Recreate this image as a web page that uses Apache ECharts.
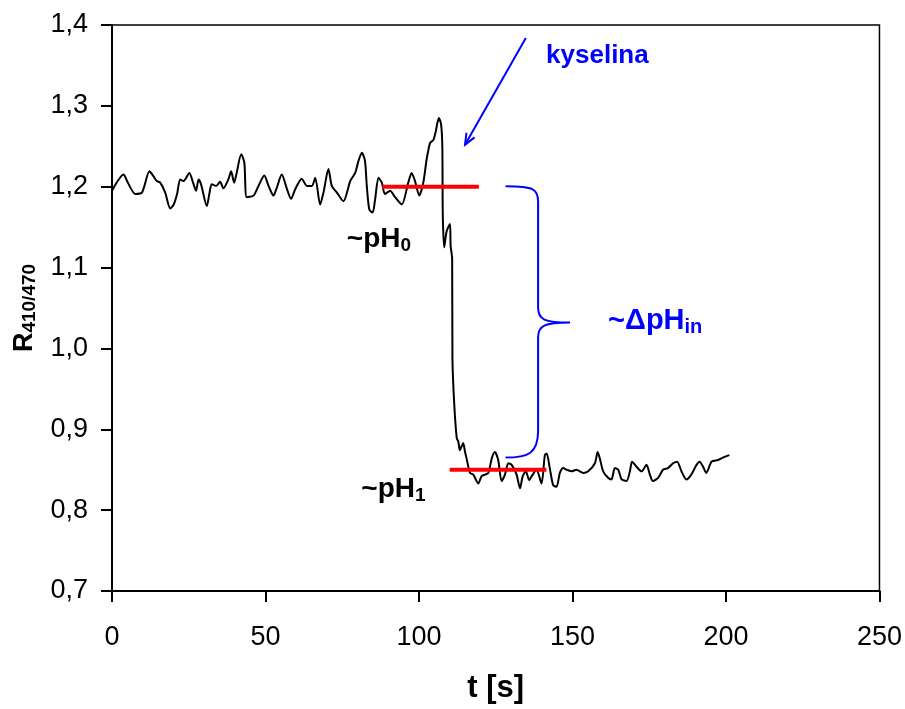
<!DOCTYPE html>
<html>
<head>
<meta charset="utf-8">
<script src="https://cdn.jsdelivr.net/npm/echarts@6/dist/echarts.min.js"></script>
<style>html,body{margin:0;padding:0;background:#fff}#c{width:905px;height:709px}</style>
</head>
<body>
<div id="c"></div>
<script>
// ---- data ----
const tSeconds = [0, 3.8, 4.9, 7.6, 9.8, 12.2, 13.5, 14.6, 15.7, 17.3, 19.0, 20.1, 21.2, 22.2, 23.3, 25.2, 26.4, 27.4, 28.2, 29.0, 30.9, 31.7, 32.5, 33.9, 35.2, 36.3, 37.9, 38.8, 39.8, 40.5, 42.1, 43.1, 43.9, 46.1, 47.7, 49.6, 51.0, 52.6, 53.7, 55.3, 57.0, 58.3, 59.7, 61.8, 63.5, 65.1, 66.2, 67.8, 68.9, 70.5, 71.6, 73.2, 75.4, 77.6, 79.2, 80.3, 81.4, 82.4, 83.0, 83.8, 84.9, 85.7, 86.8, 87.9, 88.9, 90.6, 92.2, 94.4, 96.5, 97.6, 98.7, 100.1, 101.4, 102.5, 103.6, 104.7, 105.5, 106.0, 106.5, 107.2, 107.6, 107.7, 107.8, 108.2, 109.0, 110.1, 110.3, 110.8, 110.9, 111.5, 112.3, 112.8, 113.3, 113.9, 114.4, 115.0, 115.5, 116.6, 117.7, 119.3, 120.4, 121.5, 122.6, 123.7, 124.7, 125.8, 126.9, 128.0, 129.1, 130.2, 131.8, 132.9, 133.8, 134.8, 135.9, 136.7, 138.3, 139.9, 141.0, 141.6, 142.6, 143.7, 144.8, 145.9, 147.0, 148.1, 149.7, 151.3, 153.5, 155.1, 157.3, 158.2, 158.9, 160.0, 161.6, 162.7, 163.8, 164.9, 166.0, 167.6, 168.7, 169.4, 170.8, 172.5, 174.1, 175.2, 176.2, 177.9, 179.5, 181.1, 182.8, 184.1, 185.5, 187.1, 188.7, 190.4, 191.4, 192.5, 193.6, 195.3, 197.4, 199.0, 201.1];
const ratio410_470 = [1.195, 1.215, 1.207, 1.191, 1.193, 1.219, 1.213, 1.207, 1.205, 1.193, 1.173, 1.178, 1.191, 1.209, 1.207, 1.217, 1.205, 1.195, 1.209, 1.203, 1.176, 1.191, 1.203, 1.201, 1.206, 1.198, 1.209, 1.219, 1.205, 1.215, 1.240, 1.230, 1.187, 1.189, 1.201, 1.214, 1.201, 1.189, 1.199, 1.215, 1.197, 1.185, 1.197, 1.210, 1.201, 1.201, 1.211, 1.178, 1.193, 1.222, 1.201, 1.193, 1.182, 1.207, 1.217, 1.232, 1.242, 1.232, 1.201, 1.172, 1.168, 1.184, 1.211, 1.205, 1.191, 1.195, 1.187, 1.178, 1.205, 1.217, 1.207, 1.189, 1.205, 1.234, 1.254, 1.258, 1.269, 1.279, 1.285, 1.277, 1.250, 1.184, 1.156, 1.125, 1.145, 1.154, 1.127, 1.111, 0.987, 0.930, 0.889, 0.885, 0.874, 0.879, 0.883, 0.872, 0.864, 0.846, 0.844, 0.833, 0.842, 0.844, 0.846, 0.864, 0.872, 0.862, 0.836, 0.844, 0.858, 0.856, 0.844, 0.827, 0.842, 0.848, 0.837, 0.842, 0.850, 0.833, 0.868, 0.870, 0.852, 0.831, 0.829, 0.846, 0.852, 0.850, 0.848, 0.850, 0.846, 0.848, 0.858, 0.872, 0.864, 0.848, 0.840, 0.838, 0.852, 0.850, 0.838, 0.836, 0.848, 0.860, 0.854, 0.848, 0.856, 0.844, 0.836, 0.840, 0.850, 0.852, 0.858, 0.860, 0.848, 0.838, 0.844, 0.856, 0.860, 0.854, 0.846, 0.860, 0.862, 0.865, 0.868];
const xTicks = [0, 50, 100, 150, 200, 250];
const yTicks = [0.7, 0.8, 0.9, 1.0, 1.1, 1.2, 1.3, 1.4];
const levelPH0 = {from: 88, to: 119.5, value: 1.2};
const levelPH1 = {from: 110, to: 141.5, value: 0.85};
const arrowFrom = [134.8, 1.384];
const arrowTo = [115.0, 1.252];
const braceT = {start: 128.2, spine: 138.8, tip: 149.2};
const braceR = {top: 1.2005, mid: 1.032, bottom: 0.865};
const labelPH0 = [76.5, 1.135];      // anchor (left, middle) in data units
const labelPH1 = [81.2, 0.826];
const labelKys = [141.4, 1.362];
const labelDpH = [161.6, 1.034];

// ---- chart ----
const FONT = 'Liberation Sans, Arial, sans-serif';
const chart = echarts.init(document.getElementById('c'), null, {renderer: 'canvas'});
const mainData = tSeconds.map((t, i) => [t, ratio410_470[i]]);
const fmt = v => v.toFixed(1).replace('.', ',');

function annotations(params, api) {
  const c = p => api.coord(p);
  const children = [];
  // brace
  const x0 = c([braceT.start, braceR.top])[0];
  const xs = c([braceT.spine, braceR.top])[0];
  const xt = c([braceT.tip, braceR.mid])[0];
  const yT = c([braceT.start, braceR.top])[1];
  const yM = c([braceT.tip, braceR.mid])[1];
  const yB = c([braceT.start, braceR.bottom])[1];
  const r = 15;
  const d = 'M' + x0 + ' ' + yT +
    ' C' + (xs - 4) + ' ' + yT + ' ' + xs + ' ' + (yT + 3) + ' ' + xs + ' ' + (yT + r) +
    ' L' + xs + ' ' + (yM - r) +
    ' C' + xs + ' ' + (yM - 3) + ' ' + (xs + 6) + ' ' + yM + ' ' + xt + ' ' + yM +
    ' M' + xt + ' ' + yM +
    ' C' + (xs + 6) + ' ' + yM + ' ' + xs + ' ' + (yM + 3) + ' ' + xs + ' ' + (yM + r) +
    ' L' + xs + ' ' + (yB - r - 12) +
    ' C' + xs + ' ' + (yB - 4) + ' ' + (xs - 10) + ' ' + yB + ' ' + x0 + ' ' + yB;
  children.push({type: 'path', shape: {pathData: d}, style: {fill: 'none', stroke: '#0000ff', lineWidth: 2}});
  // arrow
  const a0 = c(arrowFrom), a1 = c(arrowTo);
  children.push({type: 'line', shape: {x1: a0[0], y1: a0[1], x2: a1[0], y2: a1[1]}, style: {stroke: '#0000ff', lineWidth: 2}});
  const ang = Math.atan2(a0[1] - a1[1], a0[0] - a1[0]);
  const L = 12, w = 0.4;
  children.push({type: 'polyline', shape: {points: [
    [a1[0] + L * Math.cos(ang + w), a1[1] + L * Math.sin(ang + w)],
    [a1[0], a1[1]],
    [a1[0] + L * Math.cos(ang - w), a1[1] + L * Math.sin(ang - w)]
  ]}, style: {fill: 'none', stroke: '#0000ff', lineWidth: 2}});
  // texts
  const rich = (col, big, small) => ({
    a: {fontSize: big, fontWeight: 'bold', fontFamily: FONT, fill: col, lineHeight: big + 4},
    s: {fontSize: small, fontWeight: 'bold', fontFamily: FONT, fill: col, lineHeight: small + 3, verticalAlign: 'bottom'}
  });
  const txt = (pos, text, col, big, small) => {
    const p = c(pos);
    children.push({type: 'text', x: p[0], y: p[1], style: {text: text, rich: rich(col, big, small), fill: col, align: 'left', verticalAlign: 'middle'}});
  };
  txt(labelPH0, '{a|~pH}{s|0}', '#000', 28, 19);
  txt(labelPH1, '{a|~pH}{s|1}', '#000', 28, 19);
  txt(labelKys, '{a|kyselina}', '#0000ff', 26, 18);
  txt(labelDpH, '{a|~ΔpH}{s|in}', '#0000ff', 29, 20);
  return {type: 'group', children: children};
}

chart.setOption({
  animation: false,
  backgroundColor: '#fff',
  textStyle: {fontFamily: FONT},
  grid: {left: 112, right: 25, top: 25, bottom: 116, show: true, borderColor: '#000', borderWidth: 1.5, backgroundColor: 'transparent'},
  xAxis: {
    type: 'value', min: xTicks[0], max: xTicks[xTicks.length - 1], interval: xTicks[1] - xTicks[0],
    axisLine: {show: true, onZero: false, lineStyle: {color: '#000', width: 2}},
    axisTick: {show: true, inside: false, length: 11, lineStyle: {color: '#000', width: 2}},
    axisLabel: {fontSize: 27, color: '#000', margin: 33, fontFamily: FONT},
    splitLine: {show: false},
    name: 't [s]', nameLocation: 'middle', nameGap: 82,
    nameTextStyle: {fontSize: 31, fontWeight: 'bold', color: '#000', fontFamily: FONT}
  },
  yAxis: {
    type: 'value', min: yTicks[0], max: yTicks[yTicks.length - 1], interval: 0.1,
    axisLine: {show: true, onZero: false, lineStyle: {color: '#000', width: 2}},
    axisTick: {show: true, inside: false, length: 11, lineStyle: {color: '#000', width: 2}},
    axisLabel: {fontSize: 27, color: '#000', margin: 24, fontFamily: FONT, formatter: fmt},
    splitLine: {show: false},
    name: '{R|R}{s|410/470}', nameLocation: 'middle', nameGap: 66, nameRotate: 90,
    nameTextStyle: {
      color: '#000',
      rich: {
        R: {fontSize: 27, fontWeight: 'bold', fontFamily: FONT, color: '#000', lineHeight: 30},
        s: {fontSize: 19, fontWeight: 'bold', fontFamily: FONT, color: '#000', lineHeight: 22, verticalAlign: 'bottom'}
      }
    }
  },
  series: [
    {
      type: 'line', data: mainData, showSymbol: false, smooth: 0.25,
      lineStyle: {color: '#000', width: 2}, z: 3
    },
    {
      type: 'line', data: [[levelPH0.from, levelPH0.value], [levelPH0.to, levelPH0.value]],
      showSymbol: false, lineStyle: {color: '#ff0000', width: 4}, z: 4
    },
    {
      type: 'line', data: [[levelPH1.from, levelPH1.value], [levelPH1.to, levelPH1.value]],
      showSymbol: false, lineStyle: {color: '#ff0000', width: 4}, z: 4
    },
    {
      type: 'custom', data: [[0, 0]], renderItem: annotations, clip: false, silent: true, z: 5
    }
  ]
});
</script>
</body>
</html>
